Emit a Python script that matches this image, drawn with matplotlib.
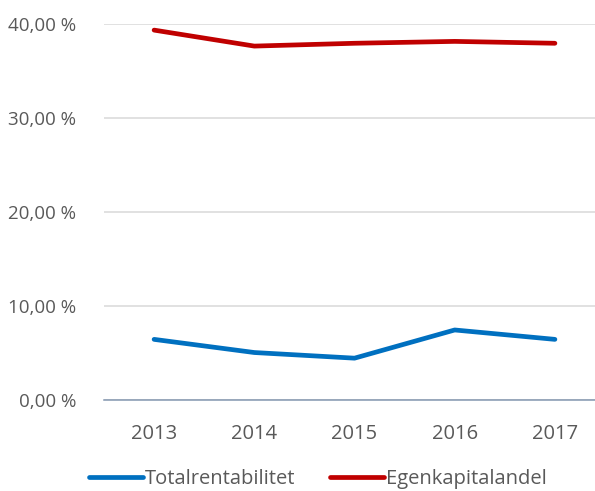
import matplotlib.pyplot as plt
from matplotlib.ticker import FuncFormatter

# Data (percent)
years = ['2013', '2014', '2015', '2016', '2017']
totalrentabilitet = [6.45, 5.05, 4.45, 7.45, 6.45]
egenkapitalandel = [39.35, 37.65, 37.95, 38.15, 37.95]
y_ticks = [0, 10, 20, 30, 40]

plt.rcParams['font.family'] = ['Open Sans', 'DejaVu Sans']

fig = plt.figure(figsize=(5.95, 4.91), dpi=100)
ax = fig.add_axes([104 / 595, 91 / 491, 1 - 104 / 595, 376 / 491])

x = range(len(years))
ax.plot(x, totalrentabilitet, color='#0070C0', lw=3.4, solid_capstyle='round',
        label='Totalrentabilitet')
ax.plot(x, egenkapitalandel, color='#C00000', lw=3.4, solid_capstyle='round',
        label='Egenkapitalandel')

ax.set_xlim(-0.5, 4.4)
ax.set_ylim(0, 40)
ax.set_yticks(y_ticks)
ax.yaxis.set_major_formatter(FuncFormatter(lambda v, p: f'{v:.2f}'.replace('.', ',') + ' %'))
ax.set_xticks(list(x))
ax.set_xticklabels(years)

# Gridlines and the zero axis line
ax.grid(axis='y', color='#D9D9D9', lw=1.1)
ax.set_axisbelow(True)
for s in ['top', 'right', 'left']:
    ax.spines[s].set_visible(False)
ax.spines['bottom'].set_color('#8497B0')
ax.spines['bottom'].set_linewidth(1.1)
ax.tick_params(axis='y', length=0, labelsize=13.5, colors='#595959', pad=20)
ax.tick_params(axis='x', length=0, labelsize=14.5, colors='#595959', pad=17)

leg = fig.legend(loc='center', bbox_to_anchor=(318 / 595, 1 - 479 / 491), ncol=2,
                 frameon=False, fontsize=14.5, handlelength=2.7, handletextpad=0.1,
                 columnspacing=1.7)
for t in leg.get_texts():
    t.set_color('#595959')

fig.savefig('out.png', dpi=100)
